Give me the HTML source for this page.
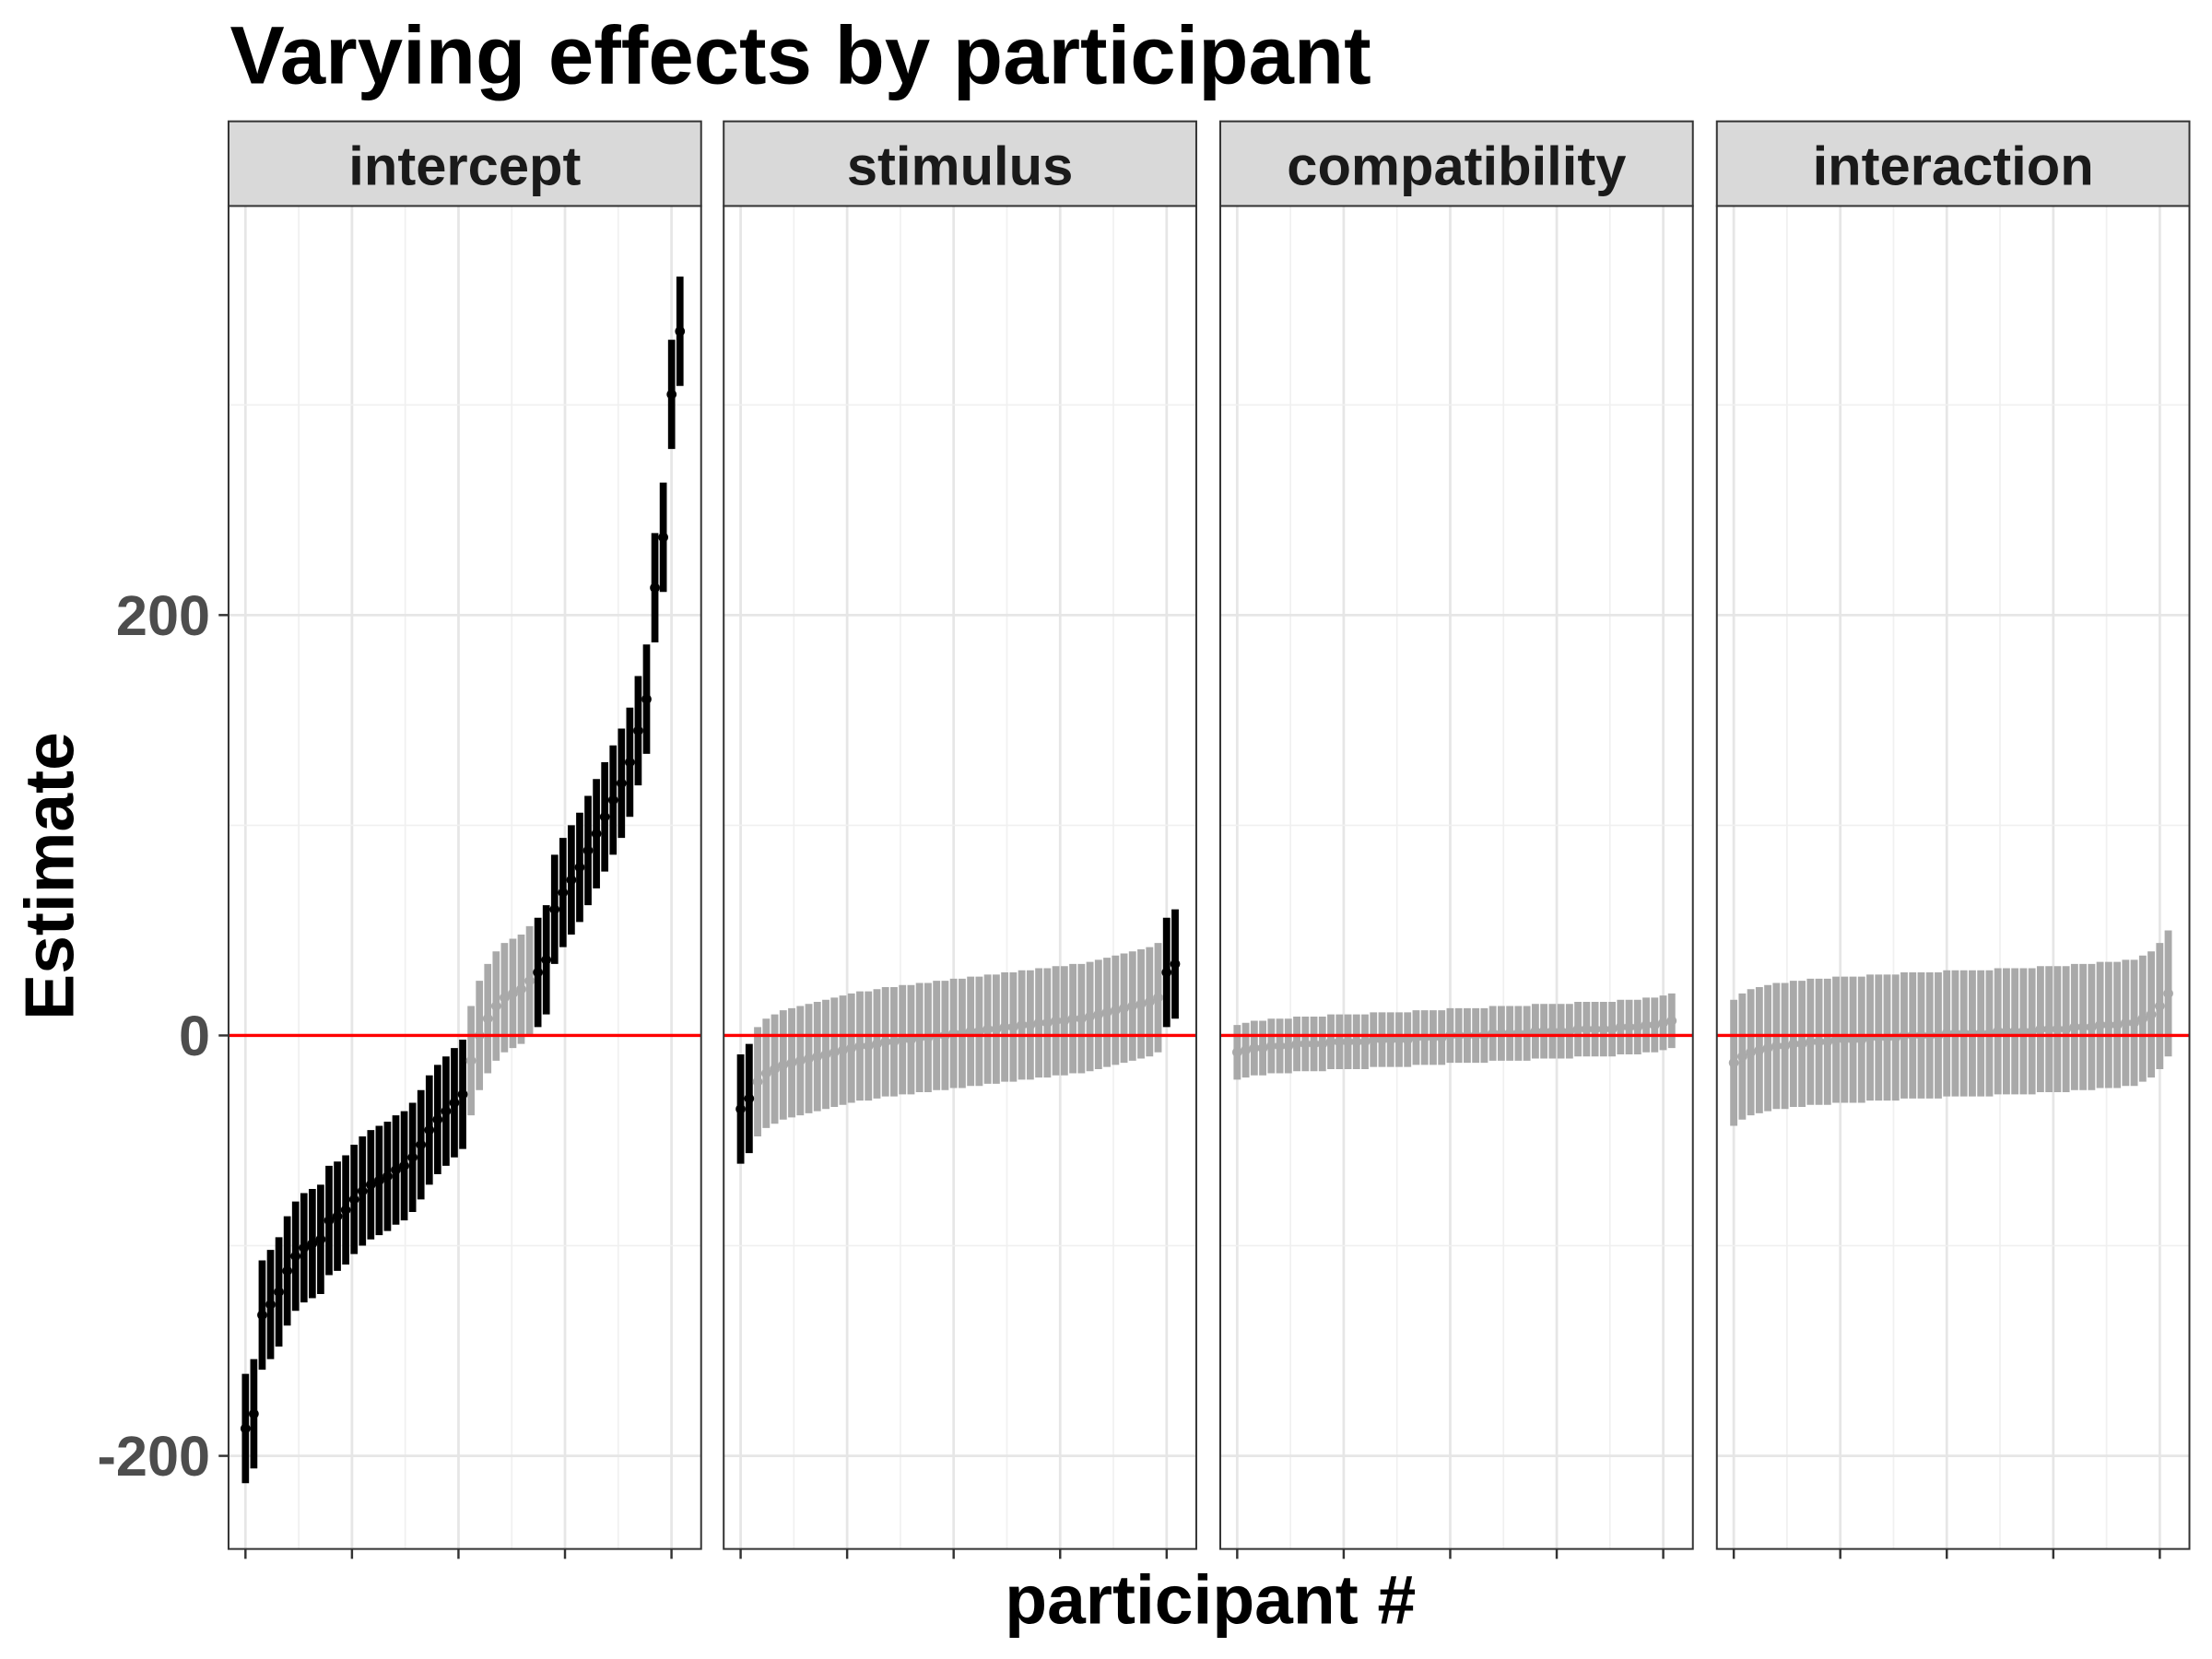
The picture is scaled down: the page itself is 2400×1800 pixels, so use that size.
<!DOCTYPE html>
<html><head><meta charset="utf-8"><style>
html,body{margin:0;padding:0;background:#fff}
svg{display:block}
text{font-family:"Liberation Sans",Arial,sans-serif;font-weight:bold}
</style></head><body>
<svg id="chart" width="2400" height="1800" viewBox="0 0 1568 1176" xmlns="http://www.w3.org/2000/svg">
<rect width="1568" height="1176" fill="#fff"/>
<text x="163" y="59" font-size="58" fill="#000">Varying effects by participant</text>
<text transform="translate(52,621) rotate(-90)" text-anchor="middle" font-size="49" fill="#000">Estimate</text>
<text x="858" y="1151" text-anchor="middle" font-size="49" fill="#000">participant #</text>
<g id="panels"></g>
</svg>
<script>
const panelNames = ["intercept","stimulus","compatibility","interaction"];
const interceptEst = [-187,-180,-133,-128,-122,-112,-105,-101,-99,-97,-88,-86,-83,-78,-74,-71,-69,-67,-64,-62,-58,-52,-45,-40,-36,-32,-28,-12,0,8,14,18,20,22,26,30,36,60,68,74,80,88,96,104,112,120,130,145,160,213,237,305,335];
const stimulusEst = [-35,-30,-22,-18,-16,-14,-13,-12,-11,-10,-9,-8,-7,-6,-5,-5,-4,-3,-3,-2,-2,-1,-1,0,0,1,1,2,2,3,3,4,4,5,5,6,6,7,7,8,8,9,10,11,12,13,14,15,16,18,30,34];
const compatibilityEst = [-8,-7,-6,-6,-5,-5,-5,-4,-4,-4,-4,-3,-3,-3,-3,-3,-2,-2,-2,-2,-2,-1,-1,-1,-1,0,0,0,0,0,1,1,1,1,1,2,2,2,2,2,3,3,3,3,3,4,4,4,5,5,6,7];
const interactionEst = [-13,-10,-8,-7,-6,-5,-5,-4,-4,-3,-3,-3,-2,-2,-2,-2,-1,-1,-1,-1,0,0,0,0,0,1,1,1,1,1,1,2,2,2,2,2,3,3,3,3,4,4,4,5,5,5,6,6,8,10,14,20];
const halfWidths = [26,26,13,30];
const yTickValues = [-200,0,200];
const yTickLabels = ["-200","0","200"];
const yMinorValues = [-100,100,300];
const seriesList = [interceptEst, stimulusEst, compatibilityEst, interactionEst];

const NS = "http://www.w3.org/2000/svg";
const panelLefts = [162,513,865,1217];
const panelW = 335, stripTop = 86, plotTop = 146, plotBottom = 1098;
function yScale(v){ return 734 - v*1.49; }
function mk(tag, attrs, parent){ const e=document.createElementNS(NS,tag); for(const k in attrs) e.setAttribute(k,attrs[k]); parent.appendChild(e); return e; }
const root = document.getElementById("panels");

panelNames.forEach((name, p) => {
  const L = panelLefts[p];
  const g = mk("g", {}, root);
  
  
  const x0 = L + 12, x1 = L + 320;
  function xTick(k){ return x0 + k*75.5; }
  for (let k=0;k<4;k++){ mk("line",{x1:xTick(k)+37.75,x2:xTick(k)+37.75,y1:plotTop,y2:plotBottom,stroke:"#f0f0f0","stroke-width":1.1},g); }
  for (let k=0;k<5;k++){ mk("line",{x1:xTick(k),x2:xTick(k),y1:plotTop,y2:plotBottom,stroke:"#e6e6e6","stroke-width":1.8},g); }
  yMinorValues.forEach(v=>mk("line",{x1:L,x2:L+panelW,y1:yScale(v),y2:yScale(v),stroke:"#f0f0f0","stroke-width":1.1},g));
  yTickValues.forEach(v=>mk("line",{x1:L,x2:L+panelW,y1:yScale(v),y2:yScale(v),stroke:"#e6e6e6","stroke-width":1.8},g));
  const est = seriesList[p], hw = halfWidths[p], n = est.length;
  const step = (x1-x0)/(n-1);
  est.forEach((v,i)=>{
    const lo=v-hw, hi=v+hw;
    const col = (lo>0||hi<0) ? "#000" : "#a9a9a9";
    const x = x0 + i*step;
    const b = mk("line",{x1:x,x2:x,y1:yScale(lo),y2:yScale(hi),stroke:col,"stroke-width":Math.max(2.5,step*0.85)},g);
    
    
  });
  est.forEach((v,i)=>{
    const lo=v-hw, hi=v+hw;
    const col = (lo>0||hi<0) ? "#000" : "#a9a9a9";
    const c = mk("circle",{cx:x0+i*step,cy:yScale(v),r:3.5,fill:col},g);
    
    
  });
  const zl = mk("line",{x1:L,x2:L+panelW,y1:yScale(0),y2:yScale(0),stroke:"#ff0000","stroke-width":2.2},g);
  
  
  mk("rect",{x:L,y:plotTop,width:panelW,height:plotBottom-plotTop,fill:"none",stroke:"#333","stroke-width":1.3},g);
  const s = mk("rect",{x:L,y:stripTop,width:panelW,height:plotTop-stripTop,fill:"#d9d9d9",stroke:"#333","stroke-width":1.3},g);
  
  
  const t = mk("text",{x:L+panelW/2,y:131,"text-anchor":"middle","font-size":39,fill:"#1a1a1a"},g);
  t.textContent = name;
  
  
  for (let k=0;k<5;k++){ mk("line",{x1:xTick(k),x2:xTick(k),y1:plotBottom,y2:plotBottom+7,stroke:"#333","stroke-width":1.6},g); }
});
yTickValues.forEach((v,i)=>{
  mk("line",{x1:155,x2:162,y1:yScale(v),y2:yScale(v),stroke:"#333","stroke-width":1.6},root);
  const t = mk("text",{x:149,y:yScale(v)+14,"text-anchor":"end","font-size":40,fill:"#4d4d4d"},root);
  t.textContent = yTickLabels[i];
  
  
});
</script>
</body></html>
